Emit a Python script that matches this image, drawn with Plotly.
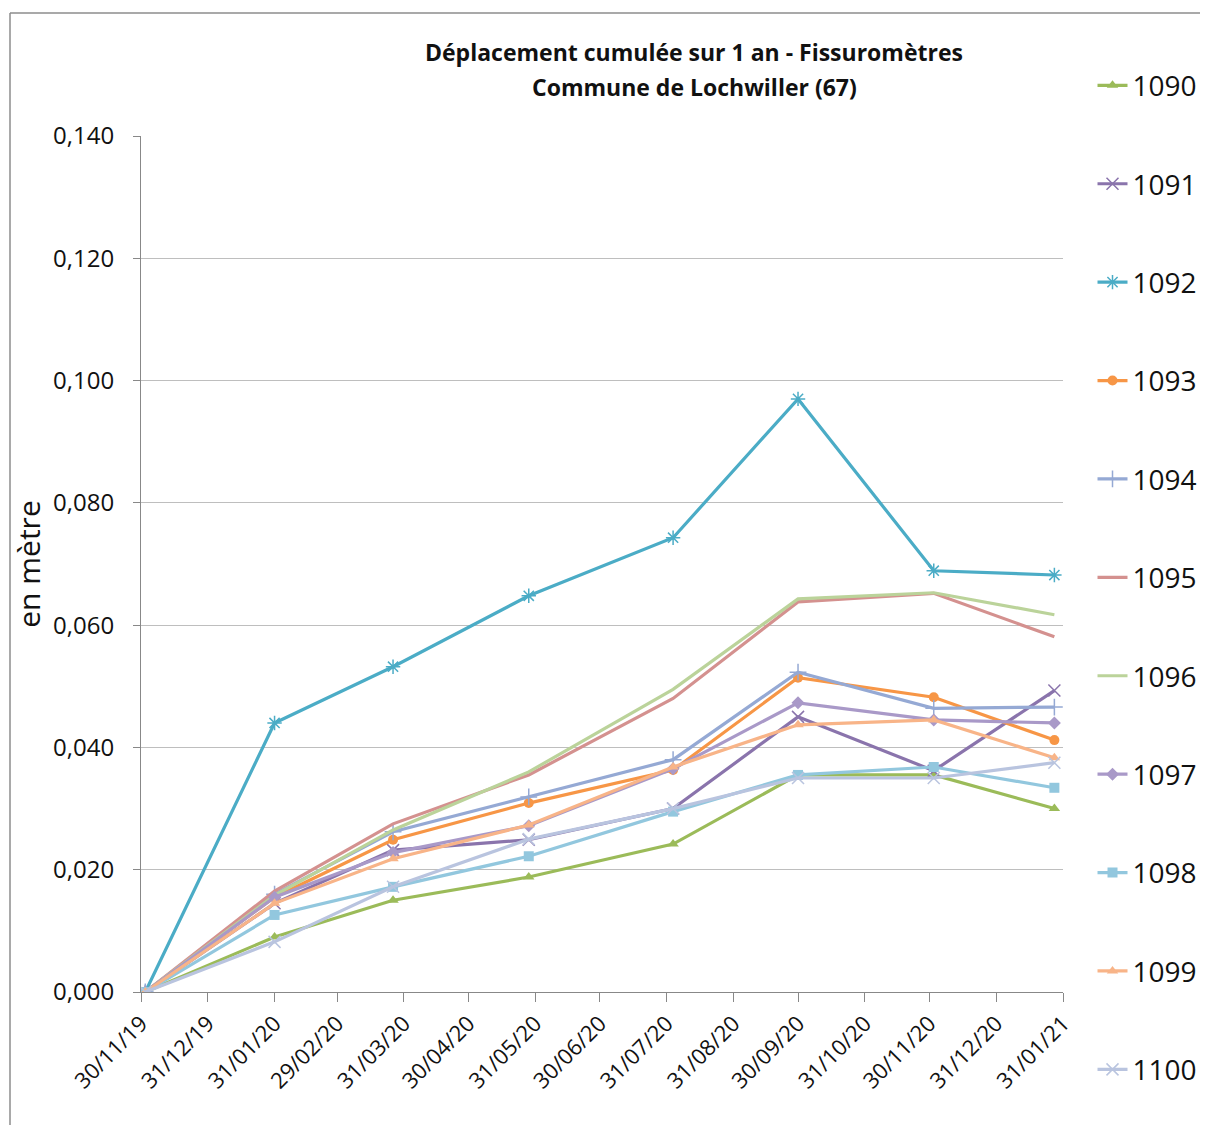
import plotly.graph_objects as go

dates = ["2019-12-02", "2020-01-31", "2020-03-26", "2020-05-28",
         "2020-08-03", "2020-09-30", "2020-12-02", "2021-01-27"]

s1090 = [0.0, 0.0090, 0.0150, 0.0188, 0.0242, 0.0355, 0.0355, 0.0300]
s1091 = [0.0, 0.0145, 0.0232, 0.0249, 0.0300, 0.0450, 0.0362, 0.0493]
s1092 = [0.0, 0.0440, 0.0532, 0.0648, 0.0743, 0.0970, 0.0689, 0.0682]
s1093 = [0.0, 0.0155, 0.0249, 0.0309, 0.0363, 0.0514, 0.0482, 0.0412]
s1094 = [0.0, 0.0160, 0.0262, 0.0319, 0.0380, 0.0523, 0.0464, 0.0466]
s1095 = [0.0, 0.0165, 0.0275, 0.0355, 0.0480, 0.0638, 0.0652, 0.0581]
s1096 = [0.0, 0.0158, 0.0265, 0.0360, 0.0495, 0.0643, 0.0653, 0.0617]
s1097 = [0.0, 0.0155, 0.0228, 0.0272, 0.0365, 0.0473, 0.0445, 0.0440]
s1098 = [0.0, 0.0126, 0.0172, 0.0222, 0.0295, 0.0355, 0.0368, 0.0334]
s1099 = [0.0, 0.0145, 0.0218, 0.0273, 0.0368, 0.0437, 0.0445, 0.0383]
s1100 = [0.0, 0.0082, 0.0172, 0.0250, 0.0300, 0.0350, 0.0350, 0.0375]

series_names = ["1090", "1091", "1092", "1093", "1094", "1095",
                "1096", "1097", "1098", "1099", "1100"]
series_values = [s1090, s1091, s1092, s1093, s1094, s1095,
                 s1096, s1097, s1098, s1099, s1100]
colors = ["#9BBB59", "#8A74AC", "#4BACC6", "#F79646", "#95A9D4", "#D4918F",
          "#BBD39A", "#A999C8", "#92C7DE", "#F8B488", "#B9C4DF"]
symbols = ["triangle-up", "x-thin-open", "asterisk-open", "circle", "cross-thin-open", None,
           None, "diamond", "square", "triangle-up", "x-thin-open"]

title_lines = ["Déplacement cumulée sur 1 an - Fissuromètres",
               "Commune de Lochwiller (67)"]

tick_vals = ["2019-11-30", "2019-12-31", "2020-01-31", "2020-02-29", "2020-03-31",
             "2020-04-30", "2020-05-31", "2020-06-30", "2020-07-31", "2020-08-31",
             "2020-09-30", "2020-10-31", "2020-11-30", "2020-12-31", "2021-01-31"]
tick_text = ["30/11/19", "31/12/19", "31/01/20", "29/02/20", "31/03/20",
             "30/04/20", "31/05/20", "30/06/20", "31/07/20", "31/08/20",
             "30/09/20", "31/10/20", "30/11/20", "31/12/20", "31/01/21"]

fig = go.Figure()
for name, vals, col, sym in zip(series_names, series_values, colors, symbols):
    if sym is None:
        mode = "lines"
        marker = dict()
    else:
        mode = "lines+markers"
        if "thin" in sym or sym.endswith("-open"):
            marker = dict(symbol=sym, size=12, color=col, line=dict(color=col, width=1.5))
        else:
            marker = dict(symbol=sym, size=10, color=col)
    fig.add_trace(go.Scatter(
        x=dates, y=vals, name=name, mode=mode, legendgroup=name,
        line=dict(color=col, width=3.2), marker=marker,
    ))

# figure sized to fit inside the page's 8px body margin
W, H = 1192, 1117
L, R, T, B = 133, 137, 128, 133
PW, PH = W - L - R, H - T - B

fig.update_layout(
    width=W, height=H,
    margin=dict(l=L, r=R, t=T, b=B, autoexpand=False),
    paper_bgcolor="white", plot_bgcolor="white",
    separators=", ",
    font=dict(family="Open Sans, Liberation Sans, sans-serif", color="#222222"),
    legend=dict(
        x=1.032, xanchor="left", y=1.088, yanchor="top",
        font=dict(size=28, color="#111111"),
        tracegroupgap=59, itemwidth=30, maxheight=1130,
        bgcolor="rgba(0,0,0,0)",
    ),
    showlegend=True,
)

for i, (line, fy) in enumerate(zip(title_lines, [44, 79])):
    fig.add_annotation(
        text="<b>" + line + "</b>", xref="paper", yref="paper",
        x=(686 - L) / PW, y=(H - B - fy) / PH, xanchor="center", yanchor="middle",
        showarrow=False, font=dict(size=23, color="#111111"),
    )

fig.update_xaxes(
    type="date", range=["2019-11-30", "2021-01-31"],
    tickmode="array", tickvals=tick_vals, ticktext=tick_text,
    tickangle=-45, tickfont=dict(size=22, color="#111111"),
    showgrid=False, showline=True, linecolor="#888888", linewidth=1,
    ticks="outside", ticklen=9, tickcolor="#888888",
    zeroline=False,
)
fig.update_yaxes(
    range=[0, 0.14], dtick=0.02, tickformat=".3f",
    tickfont=dict(size=24, color="#111111"),
    ticklabelstandoff=14,
    showgrid=True, gridcolor="#BEBEBE", gridwidth=1,
    showline=True, linecolor="#888888", linewidth=1,
    ticks="outside", ticklen=7, tickcolor="#888888",
    zeroline=False,
    title=dict(text="en mètre", font=dict(size=30, color="#111111"), standoff=8),
)

# outer chart border: only the left and top edges are inside the picture
bx0, by_top = (2 - L) / PW, (H - B - 5) / PH
fig.add_shape(type="line", xref="paper", yref="paper",
              x0=bx0, x1=(W + 20 - L) / PW, y0=by_top, y1=by_top,
              line=dict(color="#8C8C8C", width=1.5), layer="below")
fig.add_shape(type="line", xref="paper", yref="paper",
              x0=bx0, x1=bx0, y0=by_top, y1=(H - B - H - 20) / PH,
              line=dict(color="#8C8C8C", width=1.5), layer="below")

fig.write_html("out.html")
